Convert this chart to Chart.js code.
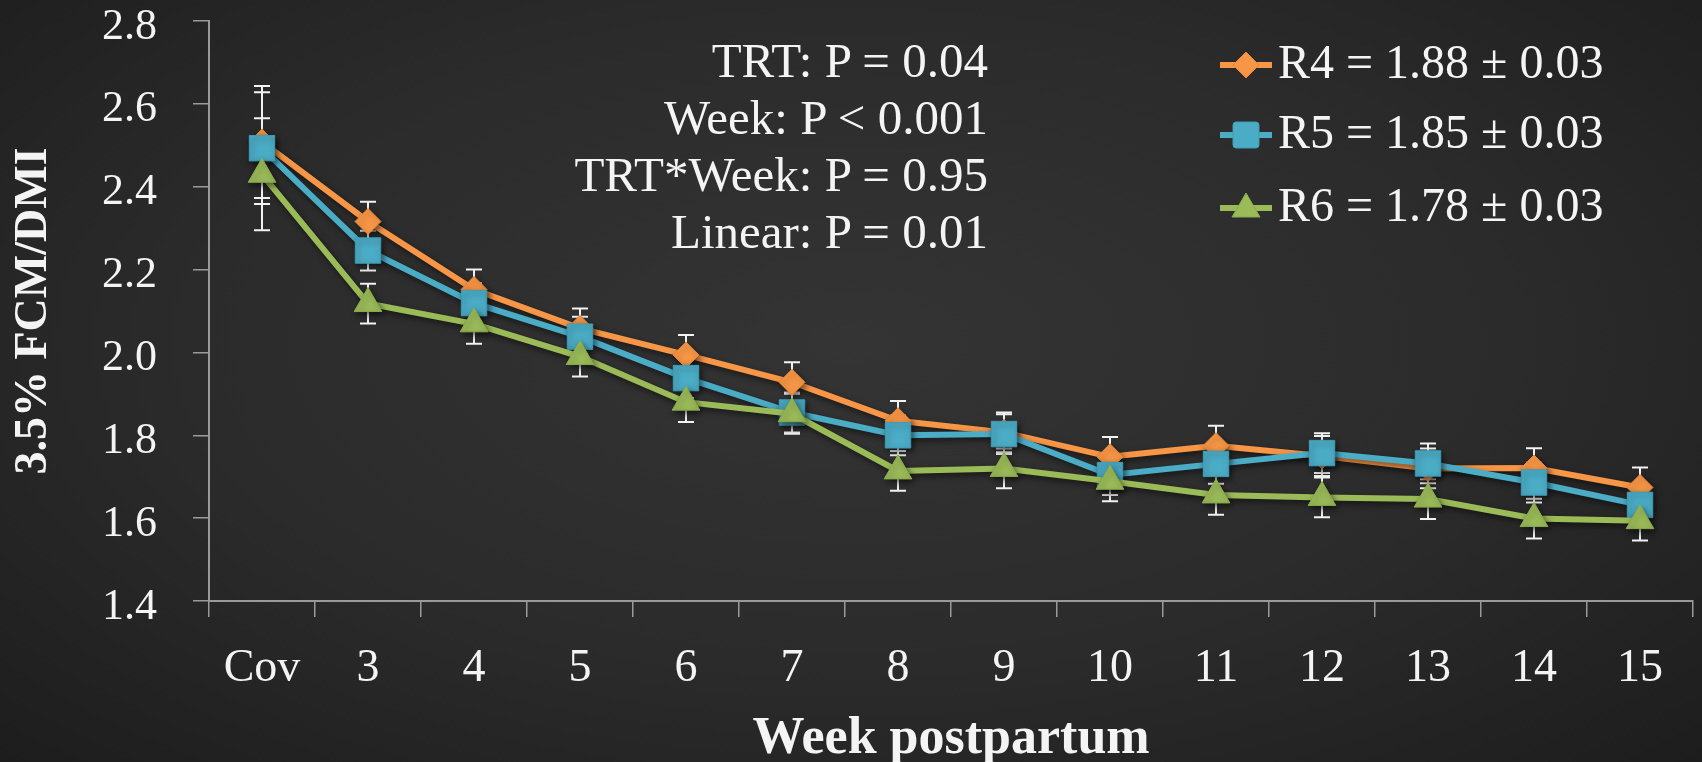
<!DOCTYPE html>
<html lang="en">
<head>
    <meta charset="UTF-8">
    <title>3.5% FCM/DMI by week postpartum</title>
    <script src="https://cdn.jsdelivr.net/npm/chart.js"></script>
    <style>
        html, body { margin: 0; padding: 0; }
        body { width: 1702px; height: 762px; overflow: hidden; position: relative;
               background: radial-gradient(ellipse at 50% 45%, #343434 0%, #2b2b2b 55%, #1d1d1d 100%);
               font-family: 'Liberation Serif', serif; color: #f4f4f4; }
        #chart { position: absolute; left: 0; top: 0; }
        .stats { position: absolute; right: 714px; top: 32px; text-align: right; font-size: 49px; line-height: 57px; white-space: nowrap; }
        .legend-row { position: absolute; left: 1218px; height: 56px; font-size: 48px; line-height: 56px; white-space: nowrap; }
        .legend-row svg { position: absolute; left: 0; top: 16px; }
        .legend-row span { position: absolute; left: 60px; top: 0; }
    </style>
</head>
<body>
    <canvas id="chart" width="1702" height="762"></canvas>
    <div class="stats" id="stats"></div>
    <div id="legend"></div>
    <script>
    // week labels on the x axis
    const categories = ['Cov', '3', '4', '5', '6', '7', '8', '9', '10', '11', '12', '13', '14', '15'];

    // treatment means
    const r4 = [2.508, 2.316, 2.152, 2.058, 1.994, 1.928, 1.835, 1.807, 1.748, 1.775, 1.750, 1.720, 1.721, 1.674];
    const r5 = [2.493, 2.246, 2.119, 2.038, 1.938, 1.855, 1.800, 1.803, 1.704, 1.731, 1.757, 1.732, 1.686, 1.632];
    const r6 = [2.430, 2.118, 2.069, 1.990, 1.880, 1.852, 1.714, 1.720, 1.689, 1.656, 1.650, 1.646, 1.599, 1.594];
    // standard error per week (same for all treatments)
    const sem = [0.135, 0.048, 0.048, 0.048, 0.048, 0.048, 0.048, 0.048, 0.048, 0.048, 0.048, 0.048, 0.048, 0.048];

    const seriesLabels = ['R4 = 1.88 ± 0.03', 'R5 = 1.85 ± 0.03', 'R6 = 1.78 ± 0.03'];
    const statLines = ['TRT: P = 0.04', 'Week: P < 0.001', 'TRT*Week: P = 0.95', 'Linear: P = 0.01'];

    const yMin = 1.4, yMax = 2.8, yStep = 0.2;

    const orange = '#F79646', blue = '#4BACC6', green = '#9BBB59';
    const axisColor = '#9a9a9a';
    const textColor = '#f4f4f4';

    // error bars behind the lines and markers
    const errorBars = {
        id: 'errorBars',
        beforeDatasetsDraw(chart) {
            const ctx = chart.ctx;
            const yScale = chart.scales.y;
            ctx.save();
            ctx.strokeStyle = '#f2f2f2';
            ctx.lineWidth = 2;
            chart.data.datasets.forEach((ds, i) => {
                const meta = chart.getDatasetMeta(i);
                meta.data.forEach((pt, j) => {
                    const yTop = yScale.getPixelForValue(ds.data[j] + sem[j]);
                    const yBot = yScale.getPixelForValue(ds.data[j] - sem[j]);
                    ctx.beginPath();
                    ctx.moveTo(pt.x, yTop); ctx.lineTo(pt.x, yBot);
                    ctx.moveTo(pt.x - 8, yTop); ctx.lineTo(pt.x + 8, yTop);
                    ctx.moveTo(pt.x - 8, yBot); ctx.lineTo(pt.x + 8, yBot);
                    ctx.stroke();
                });
            });
            ctx.restore();
        }
    };

    // soft drop shadow under each series
    const shadows = {
        id: 'shadows',
        beforeDatasetDraw(chart) {
            const ctx = chart.ctx;
            ctx.save();
            ctx.shadowColor = 'rgba(0,0,0,0.55)';
            ctx.shadowBlur = 6;
            ctx.shadowOffsetX = 2;
            ctx.shadowOffsetY = 3;
        },
        afterDatasetDraw(chart) {
            chart.ctx.restore();
        }
    };

    const chart = new Chart(document.getElementById('chart').getContext('2d'), {
        type: 'line',
        data: {
            labels: categories,
            datasets: [
                { label: seriesLabels[0], data: r4, borderColor: orange, backgroundColor: orange, borderWidth: 6,
                  pointStyle: 'rectRot', pointRadius: 13, pointBorderWidth: 1, pointBorderColor: '#e8873a', order: 3 },
                { label: seriesLabels[1], data: r5, borderColor: blue, backgroundColor: blue, borderWidth: 6,
                  pointStyle: 'rect', pointRadius: 18, pointBorderWidth: 1, pointBorderColor: '#3f9db6', order: 2 },
                { label: seriesLabels[2], data: r6, borderColor: green, backgroundColor: green, borderWidth: 6,
                  pointStyle: 'triangle', pointRadius: 16, pointBorderWidth: 1, pointBorderColor: '#8aab4b', order: 1 }
            ]
        },
        options: {
            responsive: false,
            animation: false,
            layout: { autoPadding: false, padding: { top: 21, right: 9, bottom: 0, left: 0 } },
            plugins: { legend: { display: false }, tooltip: { enabled: false } },
            elements: { line: { tension: 0 } },
            scales: {
                x: {
                    offset: true,
                    grid: { offset: true, drawOnChartArea: false, color: axisColor, lineWidth: 1.5, tickLength: 16 },
                    border: { color: axisColor, width: 2 },
                    ticks: { color: textColor, padding: 24, maxRotation: 0, autoSkip: false,
                             font: { family: 'Liberation Serif', size: 46 } },
                    title: { display: true, text: 'Week postpartum', color: textColor,
                             font: { family: 'Liberation Serif', size: 52, weight: 'bold', lineHeight: 0.85 }, padding: { top: 0, bottom: 0 } },
                    afterFit(scale) { scale.height = 161; scale.paddingLeft = 0; scale.paddingRight = 0; }
                },
                y: {
                    min: yMin, max: yMax,
                    grid: { drawOnChartArea: false, color: axisColor, lineWidth: 1.5, tickLength: 16 },
                    border: { color: axisColor, width: 2 },
                    ticks: { stepSize: yStep, color: textColor, padding: 36, labelOffset: 6,
                             font: { family: 'Liberation Serif', size: 44 },
                             callback: v => Number(v).toFixed(1) },
                    title: { display: true, text: '3.5% FCM/DMI', color: textColor,
                             font: { family: 'Liberation Serif', size: 46, weight: 'bold' }, padding: { top: 7, bottom: 0 } },
                    afterFit(scale) { scale.width = 209; scale.paddingTop = 0; scale.paddingBottom = 0; }
                }
            }
        },
        plugins: [errorBars, shadows]
    });

    // statistics text block
    document.getElementById('stats').innerHTML = statLines.map(s => s.replace('<', '&lt;')).join('<br>');

    // legend built from the datasets
    const shapes = [
        '<polygon points="28,2 41,15 28,28 15,15"/>',
        '<rect x="15" y="2" width="26" height="26" rx="3"/>',
        '<polygon points="28,0 42,24 14,24"/>'
    ];
    const rowTops = [34, 104, 177];
    document.getElementById('legend').innerHTML = chart.data.datasets.map((ds, i) =>
        `<div class="legend-row" style="top:${rowTops[i]}px">
            <svg width="56" height="30"><line x1="2" y1="15" x2="54" y2="15" stroke="${ds.borderColor}" stroke-width="6"/>
            <g fill="${ds.backgroundColor}" stroke="${ds.pointBorderColor}" stroke-width="1">${shapes[i]}</g></svg>
            <span>${ds.label}</span>
        </div>`).join('');
    </script>
</body>
</html>
